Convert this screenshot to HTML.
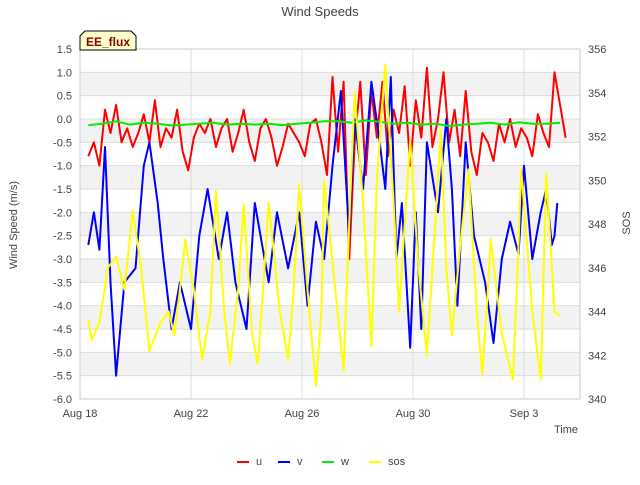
<!DOCTYPE html>
<html><head><meta charset="utf-8"><style>
body{margin:0;background:#fff;}
svg text{font-family:"Liberation Sans","DejaVu Sans",sans-serif;}
</style></head><body>
<svg id="c" width="640" height="480" xmlns="http://www.w3.org/2000/svg"></svg>
<script>
const yTicks=[1.5,1.0,0.5,0.0,-0.5,-1.0,-1.5,-2.0,-2.5,-3.0,-3.5,-4.0,-4.5,-5.0,-5.5,-6.0];
const y2Ticks=[340,342,344,346,348,350,352,354,356];
const xTickLabels=["Aug 18","Aug 22","Aug 26","Aug 30","Sep 3"];
const xTickDays=[0,4,8,12,16];
const uStart=0.3, uStep=0.2;
const uVals=[-0.8,-0.5,-1.0,0.2,-0.3,0.3,-0.5,-0.2,-0.6,
-0.3,0.1,-0.5,0.4,-0.6,-0.2,-0.4,0.2,-0.7,-1.1,
-0.4,-0.1,-0.3,0.0,-0.6,-0.2,0.0,-0.7,-0.3,0.2,
-0.5,-0.9,-0.2,0.0,-0.4,-1.0,-0.6,-0.1,-0.3,-0.5,
-0.8,-0.1,0.0,-0.5,-1.2,0.9,-0.7,0.8,-3.0,-0.5,
0.8,-1.2,0.6,-0.4,0.8,-0.8,0.2,-0.3,0.7,-1.0,
0.4,-0.4,1.1,-0.6,0.0,1.0,-0.5,0.2,-0.8,0.6,
-0.7,-1.2,-0.3,-0.5,-0.9,-0.1,-0.5,0.0,-0.6,-0.2,
-0.4,-0.8,0.1,-0.3,-0.6,1.0,0.3,-0.4];
const vTimes=[0.3,0.5,0.7,0.9,1.1,1.3,1.6,2.0,2.3,2.5,2.8,3.0,3.3,3.6,4.0,4.3,4.6,5.0,5.3,5.6,6.0,6.3,6.8,7.1,7.5,7.9,8.2,8.5,8.8,9.1,9.4,9.7,9.9,10.2,10.5,10.8,11.0,11.2,11.4,11.6,11.9,12.1,12.3,12.5,12.9,13.2,13.4,13.6,13.9,14.2,14.6,14.9,15.2,15.5,15.8,16.0,16.3,16.6,16.8,17.0,17.1,17.2];
const vVals=[-2.7,-2.0,-2.8,-0.6,-3.5,-5.5,-3.5,-3.2,-1.0,-0.5,-1.8,-3.0,-4.5,-3.5,-4.5,-2.5,-1.5,-3.0,-2.0,-3.5,-4.5,-1.8,-3.5,-2.0,-3.2,-2.0,-4.0,-2.2,-3.0,-1.0,0.6,-2.5,0.0,-1.5,0.8,-0.5,-1.5,0.9,-3.0,-1.8,-4.9,-2.0,-4.5,-0.5,-2.0,0.0,-1.5,-4.0,-0.5,-2.5,-3.5,-4.8,-3.0,-2.2,-2.9,-1.0,-3.0,-2.0,-1.5,-2.7,-2.5,-1.8];
const wStart=0.3, wStep=0.5;
const wVals=[-0.13,-0.1,-0.05,-0.12,-0.08,-0.1,-0.14,-0.12,-0.1,-0.08,-0.12,-0.1,-0.12,-0.1,-0.13,-0.1,-0.08,-0.05,-0.05,-0.08,-0.03,-0.06,-0.1,-0.08,-0.12,-0.1,-0.15,-0.12,-0.1,-0.08,-0.12,-0.07,-0.1,-0.1,-0.08];
const sTimes=[0.3,0.43,0.7,1.0,1.3,1.6,1.9,2.2,2.5,2.9,3.2,3.4,3.6,3.8,4.1,4.4,4.7,4.9,5.2,5.4,5.7,5.9,6.2,6.4,6.6,6.8,7.2,7.5,7.7,7.9,8.2,8.5,8.7,8.8,9.2,9.5,9.7,9.9,10.2,10.5,10.7,11.0,11.3,11.5,11.7,11.9,12.2,12.5,12.8,13.0,13.2,13.4,13.7,14.0,14.3,14.5,14.7,14.8,15.2,15.6,15.8,15.9,16.3,16.6,16.8,17.1,17.3];
const sVals=[343.6,342.7,343.5,346,346.5,345,348.6,346,342.2,343.5,344,342.9,345,347.3,345,341.8,344,349.5,344,341.6,345,348.9,343,341.6,345,349,344,341.8,345,349.8,345,340.6,344,350,345,341.3,348,354,349,342.4,350,355.3,349,344,348,351.8,346,342,348,352.3,346,342.9,347,350.5,344,341.1,345,347.3,343,340.9,347,350.5,344,340.9,350.3,344,343.8];
const svg=document.getElementById('c');
const NS='http://www.w3.org/2000/svg';
const L=80,R=580,T=49,B=399;
const xS=d=>L+d*27.75;
const yS=v=>T+(1.5-v)/7.5*(B-T);
const y2S=v=>B-(v-340)/16*(B-T);
function mk(tag,attrs,parent){const e=document.createElementNS(NS,tag);for(const k in attrs)e.setAttribute(k,attrs[k]);(parent||svg).appendChild(e);return e;}
function txt(s,attrs){const e=mk('text',attrs);e.textContent=s;return e;}
// bands
for(let i=0;i<yTicks.length-1;i++){ if(i%2===1){const r=mk('rect',{x:L,y:yS(yTicks[i]),width:R-L,height:yS(yTicks[i+1])-yS(yTicks[i]),fill:'#f2f2f2'});

}}
yTicks.forEach(v=>{const l=mk('line',{x1:L,x2:R,y1:yS(v),y2:yS(v),stroke:'#dcdcdc','stroke-width':1});


const t=txt(v.toFixed(1),{x:L-8,y:yS(v)+4,'text-anchor':'end','font-size':11,fill:'#444'});

});
xTickDays.forEach((d,i)=>{const l=mk('line',{x1:xS(d),x2:xS(d),y1:T,y2:B,stroke:'#dcdcdc','stroke-width':1});


const t=txt(xTickLabels[i],{x:xS(d),y:B+18,'text-anchor':'middle','font-size':11,fill:'#444'});

});
y2Ticks.forEach(v=>{const t=txt(String(v),{x:R+8,y:y2S(v)+4,'font-size':11,fill:'#444'});

});
const fr=mk('rect',{x:L,y:T,width:R-L,height:B-T,fill:'none',stroke:'#ccc'});


function line(pts,color,name){const p=mk('polyline',{points:pts.map(a=>a[0].toFixed(1)+','+a[1].toFixed(1)).join(' '),fill:'none',stroke:color,'stroke-width':2,'stroke-linejoin':'round'});

}
line(uVals.map((v,i)=>[xS(uStart+i*uStep),yS(v)]),'#ff0000','series-u');
line(vVals.map((v,i)=>[xS(vTimes[i]),yS(v)]),'#0000ff','series-v');
line(wVals.map((v,i)=>[xS(wStart+i*wStep),yS(v)]),'#00ee00','series-w');
line(sVals.map((v,i)=>[xS(sTimes[i]),y2S(v)]),'#ffff00','series-sos');
let t;
t=txt('Wind Speeds',{x:320,y:16,'text-anchor':'middle','font-size':13,fill:'#444'});


t=txt('Wind Speed (m/s)',{x:17,y:225,'text-anchor':'middle','font-size':11,fill:'#444',transform:'rotate(-90 17 225)'});


t=txt('SOS',{x:630,y:223,'text-anchor':'middle','font-size':11,fill:'#444',transform:'rotate(-90 630 223)'});


t=txt('Time',{x:578,y:433,'text-anchor':'end','font-size':11,fill:'#444'});


const badge=mk('path',{d:'M80,50 L80,36 L85,31 L131,31 L136,36 L136,50 Z',fill:'#ffffcc',stroke:'#000','stroke-width':1});


t=txt('EE_flux',{x:108,y:46,'text-anchor':'middle','font-size':12,'font-weight':'bold',fill:'#8b0000'});


const leg=[['u','#ff0000',237],['v','#0000ff',278],['w','#00ee00',322],['sos','#ffff00',369]];
leg.forEach(e=>{const l=mk('line',{x1:e[2],x2:e[2]+12,y1:462,y2:462,stroke:e[1],'stroke-width':2});


const tt=txt(e[0],{x:e[2]+19,y:465,'font-size':11,fill:'#444'});

});
</script>
</body></html>
